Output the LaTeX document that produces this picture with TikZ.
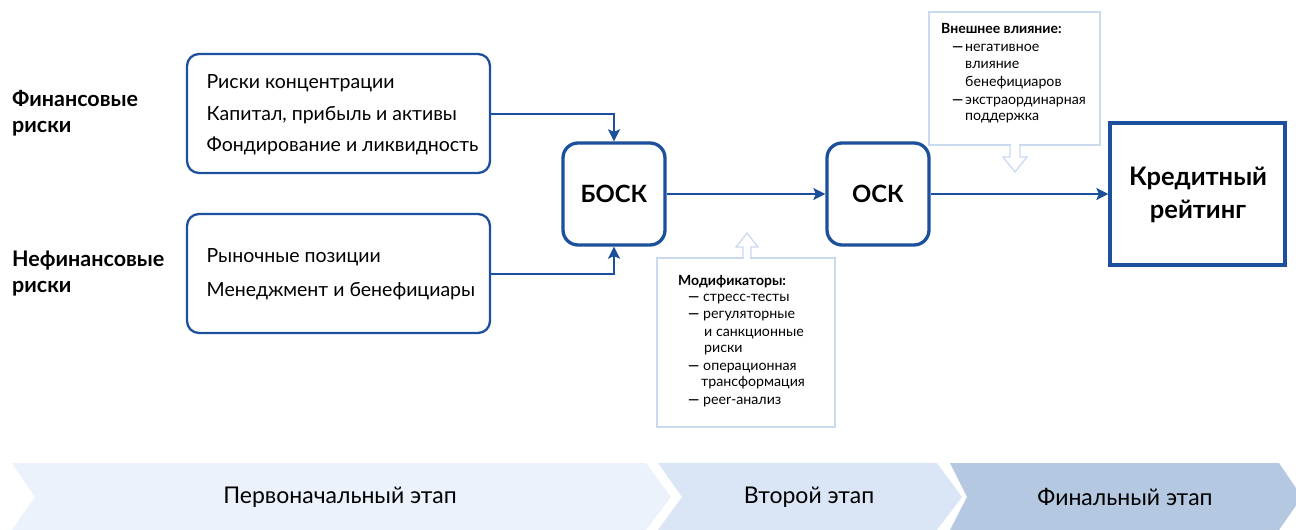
\documentclass[tikz,border=0pt]{standalone}
\usepackage{fontspec}
\setmainfont{Lato}
\usetikzlibrary{arrows.meta}
\definecolor{dblue}{HTML}{1C4F9C}
\definecolor{lblue}{HTML}{C9D9EE}
\definecolor{chA}{HTML}{EBF2FB}
\definecolor{chB}{HTML}{DAE6F6}
\definecolor{chC}{HTML}{B4C8E1}
\tikzset{
  riskbox/.style={draw=dblue, line width=2.3pt, rounded corners=12pt, minimum width=303pt, minimum height=119pt, inner sep=0pt},
  corebox/.style={draw=dblue, line width=3.3pt, rounded corners=15pt, minimum width=102pt, minimum height=102pt, inner sep=0pt, font=\fontsize{23.8}{26}\selectfont\bfseries},
  ratebox/.style={draw=dblue, line width=3.3pt, minimum width=175pt, minimum height=142pt, inner sep=0pt},
  conn/.style={draw=dblue, line width=2pt, -{Stealth[length=12pt,width=12pt,inset=2.5pt]}},
  boxtxt/.style={anchor=base west, inner sep=0pt, font=\fontsize{19.5}{22}\selectfont},
  grptxt/.style={anchor=base west, inner sep=0pt, font=\fontsize{21.5}{24}\selectfont\bfseries},
  ctxt/.style={anchor=base west, inner sep=0pt, font=\fontsize{14.2}{16}\selectfont},
  cdash/.style={anchor=base west, inner sep=0pt, font=\fontsize{14.2}{16}\selectfont\bfseries},
  chtxt/.style={inner sep=0pt, font=\fontsize{23}{26}\selectfont},
  callout/.style={draw=lblue, line width=1.2pt},
}
\begin{document}
\begin{tikzpicture}[x=1pt,y=-1pt]
\useasboundingbox (0,0) rectangle (1296,530);
% chevrons
\fill[chA] (12,463) -- (646,463) -- (671,497) -- (646,530) -- (12,530) -- (35,497) -- cycle;
\fill[chB] (658,463) -- (937,463) -- (962,497) -- (937,530) -- (658,530) -- (682,497) -- cycle;
\fill[chC] (950,463) -- (1279,463) -- (1302,497) -- (1279,530) -- (950,530) -- (967,497) -- cycle;
\node[chtxt] (st1) at (340,497) {Первоначальный этап};
\node[chtxt] (st2) at (809,497) {Второй этап};
\node[chtxt] (st3) at (1125,497) {Финальный этап};
% left labels
\node[grptxt] (g1a) at (12,106.7) {Финансовые};
\node[grptxt] (g1b) at (12,132.7) {риски};
\node[grptxt] (g2a) at (12,266.7) {Нефинансовые};
\node[grptxt] (g2b) at (12,292.7) {риски};
% risk boxes
\node[riskbox] (fin) at (338.5,113.5) {};
\node[riskbox] (nfin) at (338.5,273.5) {};
\node[boxtxt] (f1) at (206.5,88) {Риски концентрации};
\node[boxtxt] (f2) at (206.5,120) {Капитал, прибыль и активы};
\node[boxtxt] (f3) at (206.5,151.7) {Фондирование и ликвидность};
\node[boxtxt] (n1) at (206.5,262.7) {Рыночные позиции};
\node[boxtxt] (n2) at (206.5,296) {Менеджмент и бенефициары};
% core boxes
\node[corebox] (bosk) at (614,194) {БОСК};
\node[corebox] (osk) at (878,194) {ОСК};
\node[ratebox] (rate) at (1197.5,194) {};
\node[anchor=base, inner sep=0pt, font=\fontsize{25.5}{28}\selectfont\bfseries] (r1) at (1198,185) {Кредитный};
\node[anchor=base, inner sep=0pt, font=\fontsize{25.5}{28}\selectfont\bfseries] (r2) at (1198,218.3) {рейтинг};
% connectors
\draw[conn] (fin.east) -| (bosk.north);
\draw[conn] (nfin.east) -| (bosk.south);
\draw[conn] (bosk.east) -- (osk.west);
\draw[conn] (osk.east) -- (rate.west);
% modifiers callout
\draw[callout, fill=white] (657,258) rectangle (835,427);
\fill[white] (743.6,256) rectangle (750.4,260);
\draw[callout, line join=miter] (743,258) -- (743,247) -- (736,247) -- (747,233) -- (758,247) -- (751,247) -- (751,258);
\node[ctxt, font=\fontsize{14}{16}\selectfont\bfseries] (m0) at (678,285) {Модификаторы:};
\node[cdash] (m1d) at (688,301.7) {—};
\node[ctxt] (m1) at (703,301.7) {стресс-тесты};
\node[cdash] (m2d) at (688,318.3) {—};
\node[ctxt] (m2) at (703,318.3) {регуляторные};
\node[ctxt] (m3) at (704,336) {и санкционные};
\node[ctxt] (m4) at (704,352.7) {риски};
\node[cdash] (m5d) at (688,370) {—};
\node[ctxt] (m5) at (703,370) {операционная};
\node[ctxt] (m6) at (701,386.7) {трансформация};
\node[cdash] (m7d) at (688,404) {—};
\node[ctxt] (m7) at (703,404) {peer-анализ};
% external callout
\draw[callout, fill=white] (929,12) rectangle (1100,145);
\fill[white] (1010.6,143) rectangle (1019.4,147);
\draw[callout, line join=miter] (1010,145) -- (1010,157) -- (1003,157) -- (1015,172) -- (1027,157) -- (1020,157) -- (1020,145);
\node[ctxt, font=\fontsize{14}{16}\selectfont\bfseries] (e0) at (941,34) {Внешнее влияние:};
\node[cdash] (e1d) at (952,51.7) {—};
\node[ctxt] (e1) at (965,51.7) {негативное};
\node[ctxt] (e2) at (965,68.3) {влияние};
\node[ctxt] (e3) at (965,86) {бенефициаров};
\node[cdash] (e4d) at (952,104) {—};
\node[ctxt] (e4) at (965,104) {экстраординарная};
\node[ctxt] (e5) at (965,120.7) {поддержка};
\end{tikzpicture}
\end{document}
